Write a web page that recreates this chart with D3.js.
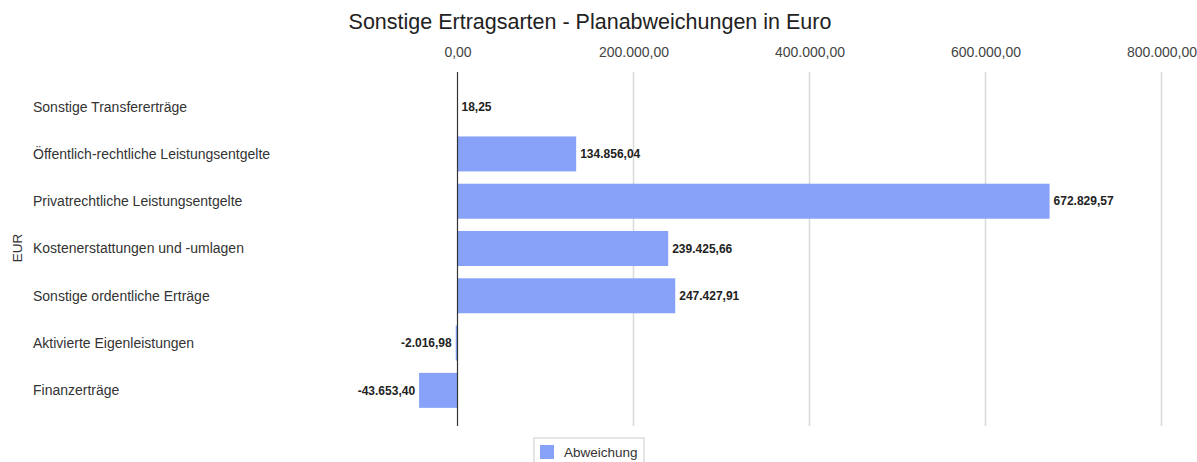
<!DOCTYPE html>
<html>
<head>
<meta charset="utf-8">
<script src="https://cdn.jsdelivr.net/npm/d3@7"></script>
<style>
  body { margin: 0; background: #fff; }
  svg { display: block; font-family: "Liberation Sans", Arial, sans-serif; }
</style>
</head>
<body>
<div id="chart"></div>
<script>
var categories = [
  "Sonstige Transfererträge",
  "Öffentlich-rechtliche Leistungsentgelte",
  "Privatrechtliche Leistungsentgelte",
  "Kostenerstattungen und -umlagen",
  "Sonstige ordentliche Erträge",
  "Aktivierte Eigenleistungen",
  "Finanzerträge"
];
var values = [18.25, 134856.04, 672829.57, 239425.66, 247427.91, -2016.98, -43653.40];
var xTicks = [0, 200000, 400000, 600000, 800000];
var seriesName = "Abweichung";

var width = 1197, height = 462;
var de = d3.formatLocale({decimal: ",", thousands: ".", grouping: [3], currency: ["", "€"], minus: "-"});
var fmt = de.format(",.2f");

var svg = d3.select("#chart").append("svg")
  .attr("width", width)
  .attr("height", height);

var x = d3.scaleLinear().domain([0, 800000]).range([457.5, 1161.5]);
var y = d3.scaleBand().domain(categories).range([83, 414]).paddingInner(0.26).paddingOuter(0.13);

var gridTop = 72, gridBottom = 426;

// title
svg.append("text")
  .attr("x", 590).attr("y", 29)
  .attr("text-anchor", "middle")
  .style("font-size", "21.5px")
  .style("fill", "#222")
  .text("Sonstige Ertragsarten - Planabweichungen in Euro");

// grid lines
svg.append("g").selectAll("line")
  .data(xTicks.filter(function(d) { return d !== 0; }))
  .enter().append("line")
  .attr("x1", function(d) { return x(d); })
  .attr("x2", function(d) { return x(d); })
  .attr("y1", gridTop).attr("y2", gridBottom)
  .attr("stroke", "#d9d9d9")
  .attr("stroke-width", 1.5);

// top axis labels
var xAxis = d3.axisTop(x).tickValues(xTicks).tickSize(0).tickPadding(0).tickFormat(fmt);
var ax = svg.append("g")
  .attr("transform", "translate(0,57)")
  .call(xAxis);
ax.select(".domain").remove();
ax.selectAll("text")
  .style("font-size", "14px")
  .style("font-family", "Liberation Sans, Arial, sans-serif")
  .style("fill", "#444");

// bars
svg.append("g").selectAll("rect")
  .data(values)
  .enter().append("rect")
  .attr("x", function(d) { return Math.min(x(0), x(d)); })
  .attr("y", function(d, i) { return y(categories[i]); })
  .attr("width", function(d) { return Math.abs(x(d) - x(0)); })
  .attr("height", y.bandwidth())
  .attr("fill", "#87a2f8");

// zero line
svg.append("line")
  .attr("x1", x(0)).attr("x2", x(0))
  .attr("y1", gridTop).attr("y2", gridBottom)
  .attr("stroke", "#333")
  .attr("stroke-width", 1.2);

// value labels
svg.append("g").selectAll("text")
  .data(values)
  .enter().append("text")
  .attr("x", function(d) { return d >= 0 ? x(d) + 4 : x(d) - 4; })
  .attr("y", function(d, i) { return y(categories[i]) + y.bandwidth() / 2; })
  .attr("dy", "0.35em")
  .attr("text-anchor", function(d) { return d >= 0 ? "start" : "end"; })
  .style("font-size", "12px")
  .style("font-weight", "bold")
  .style("fill", "#222")
  .text(function(d) { return fmt(d); });

// category labels
svg.append("g").selectAll("text")
  .data(categories)
  .enter().append("text")
  .attr("x", 33)
  .attr("y", function(d) { return y(d) + y.bandwidth() / 2; })
  .attr("dy", "0.35em")
  .style("font-size", "14px")
  .style("fill", "#333")
  .text(function(d) { return d; });

// y-axis title
svg.append("text")
  .attr("transform", "translate(22,248) rotate(-90)")
  .attr("text-anchor", "middle")
  .style("font-size", "13.5px")
  .style("fill", "#333")
  .text("EUR");

// legend
var lg = svg.append("g").attr("transform", "translate(534,438)");
lg.append("rect")
  .attr("width", 110).attr("height", 30)
  .attr("fill", "#fff")
  .attr("stroke", "#ccc");
lg.append("rect")
  .attr("x", 6).attr("y", 7)
  .attr("width", 14).attr("height", 14)
  .attr("fill", "#87a2f8");
lg.append("text")
  .attr("x", 30).attr("y", 14)
  .attr("dy", "0.35em")
  .style("font-size", "13.5px")
  .style("fill", "#333")
  .text(seriesName);
</script>
</body>
</html>
